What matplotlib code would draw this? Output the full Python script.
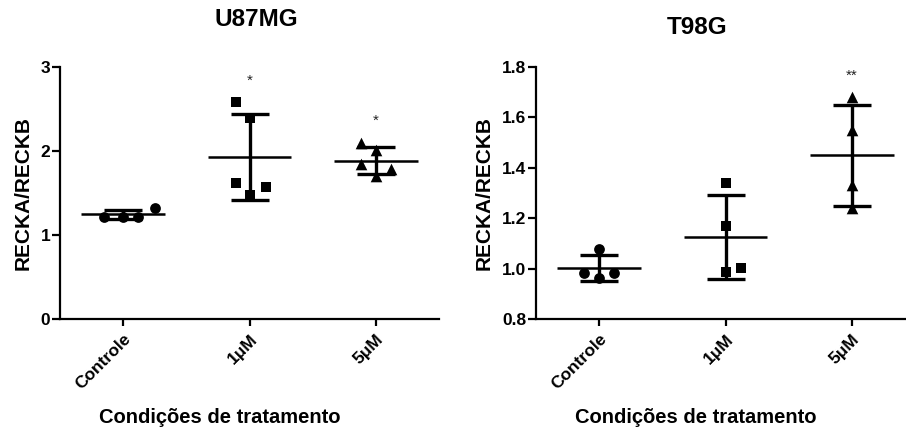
import matplotlib
matplotlib.use("Agg")
import matplotlib.pyplot as plt
import numpy as np

plt.rcParams['font.family'] = ['Liberation Sans', 'DejaVu Sans']

categories = ["Controle", "1μM", "5μM"]

# U87MG values
u87_controle = [1.22, 1.22, 1.22, 1.32]
u87_1um = [2.58, 2.39, 1.62, 1.57, 1.48]
u87_5um = [2.10, 2.01, 1.84, 1.78, 1.70]
u87_stars = ["", "*", "*"]
u87_star_y = [None, 2.84, 2.36]

# T98G values
t98_controle = [1.078, 0.984, 0.984, 0.963]
t98_1um = [1.341, 1.170, 0.988, 1.002]
t98_5um = [1.68, 1.55, 1.33, 1.24]
t98_stars = ["", "", "**"]
t98_star_y = [None, None, 1.764]

u87_yticks = [0, 1, 2, 3]
t98_yticks = [0.8, 1.0, 1.2, 1.4, 1.6, 1.8]

# layout-only horizontal jitter for points
u87_jitter = [[-0.15, 0.0, 0.12, 0.25],
              [-0.11, 0.0, -0.11, 0.13, 0.0],
              [-0.12, 0.0, -0.12, 0.12, 0.0]]
t98_jitter = [[0.0, -0.12, 0.12, 0.0],
              [0.0, 0.0, 0.0, 0.12],
              [0.0, 0.0, 0.0, 0.0]]
markers = ['o', 's', '^']
marker_sizes = [60, 62, 70]

fig = plt.figure(figsize=(9.06, 4.30), dpi=100)

def draw(ax, groups, jitter, yticks, ylim, stars, star_y, fmt):
    for i, (vals, jit) in enumerate(zip(groups, jitter)):
        vals = np.array(vals)
        m = vals.mean()
        sd = vals.std(ddof=1)
        xs = i + np.array(jit)
        ax.scatter(xs, vals, marker=markers[i], s=marker_sizes[i], color='black', zorder=3, linewidths=0)
        ax.hlines(m, i - 0.33, i + 0.33, color='black', lw=1.8, zorder=4)
        ax.errorbar([i], [m], yerr=[sd], fmt='none', ecolor='black', elinewidth=2.4,
                    capsize=14, capthick=2.4, zorder=4)
        if stars[i]:
            ax.text(i, star_y[i], stars[i], ha='center', va='center', fontsize=11, color='#222222')
    ax.set_xlim(-0.5, 2.5)
    ax.set_ylim(*ylim)
    ax.set_yticks(yticks)
    ax.set_yticklabels([fmt(v) for v in yticks], fontsize=12.5, fontweight='bold')
    ax.set_xticks(range(len(categories)))
    ax.set_xticklabels(categories, rotation=45, ha='right', rotation_mode='anchor',
                       fontsize=12.5, fontweight='bold')
    for s in ['top', 'right']:
        ax.spines[s].set_visible(False)
    for s in ['left', 'bottom']:
        ax.spines[s].set_linewidth(1.6)
    ax.tick_params(axis='y', direction='out', width=1.6, length=6, pad=1)
    ax.tick_params(axis='x', direction='out', width=1.6, length=5, pad=4)
    ax.set_ylabel("RECKA/RECKB", fontsize=15, fontweight='bold', labelpad=6)
    ax.set_xlabel("Condições de tratamento", fontsize=14.5, fontweight='bold')
    ax.xaxis.set_label_coords(0.422, -0.355)
    for sp in ax.spines.values():
        sp.set_clip_on(False)

ax1 = fig.add_axes([60/906, 111/430, 379/906, 252/430])
draw(ax1, [u87_controle, u87_1um, u87_5um], u87_jitter, u87_yticks, (0, 3),
     u87_stars, u87_star_y, lambda v: f"{v:g}")
ax2 = fig.add_axes([536/906, 111/430, 379/906, 252/430])
draw(ax2, [t98_controle, t98_1um, t98_5um], t98_jitter, t98_yticks, (0.8, 1.8),
     t98_stars, t98_star_y, lambda v: f"{v:.1f}")

fig.text(256/906, 1 - 20/430, "U87MG", ha='center', va='center', fontsize=17.5, fontweight='bold')
fig.text(697/906, 1 - 28/430, "T98G", ha='center', va='center', fontsize=17.5, fontweight='bold')

fig.savefig("out.png", dpi=100)
